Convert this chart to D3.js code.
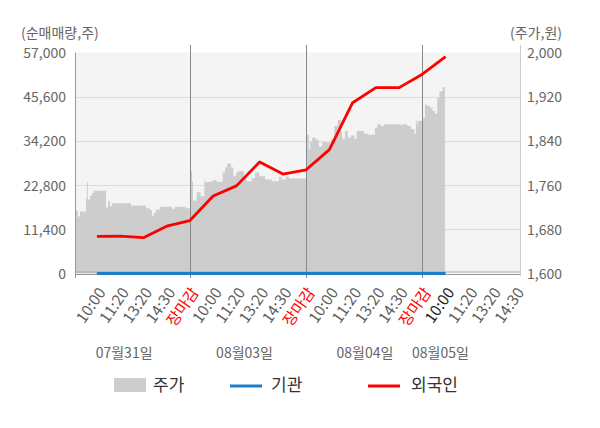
<!DOCTYPE html>
<html>
<head>
<meta charset="utf-8">
<script src="https://cdn.jsdelivr.net/npm/d3@7"></script>
<style>
  body { margin: 0; background: #fff; }
  svg { display: block; font-family: "Noto Sans CJK KR", "Noto Sans", sans-serif; }
</style>
</head>
<body>
<svg id="chart"></svg>
<script>
const WIDTH = 600;
const HEIGHT = 428;

// x axis slots: 4 trading days, 5 slots per day (last day still open)
const timeLabels = [
  "10:00", "11:20", "13:20", "14:30", "장마감",
  "10:00", "11:20", "13:20", "14:30", "장마감",
  "10:00", "11:20", "13:20", "14:30", "장마감",
  "10:00", "11:20", "13:20", "14:30"
];
const dayLabels = ["07월31일", "08월03일", "08월04일", "08월05일"];
const closeSlots = [4, 9, 14];
const currentSlot = 15;

const volTicks = [0, 11400, 22800, 34200, 45600, 57000];
const priceTicks = [1600, 1680, 1760, 1840, 1920, 2000];

// net buying per slot (shares)
const foreignNet = [9600, 9650, 9250, 12200, 13650, 20000, 22600, 28750, 25650,
  26750, 31950, 44050, 47950, 47950, 51400, 55950];
const instNet = [0, 0, 0, 0, 0, 0, 0, 0, 0, 0, 0, 0, 0, 0, 0, 0];

// intraday price, [slot position, price] (step after)
const price = [
  [-0.90, 1714], [-0.82, 1703], [-0.73, 1712], [-0.47, 1736], [-0.43, 1765],
  [-0.39, 1734], [-0.30, 1741], [-0.20, 1746], [-0.13, 1750], [0.39, 1720],
  [0.48, 1731], [0.56, 1722], [0.65, 1727], [1.47, 1721], [1.51, 1723],
  [2.11, 1718], [2.28, 1715], [2.37, 1705], [2.45, 1710], [2.54, 1716],
  [2.71, 1721], [3.23, 1717], [3.36, 1721], [3.83, 1718],
  [4.03, 1785], [4.09, 1767], [4.13, 1732], [4.29, 1747], [4.46, 1740],
  [4.62, 1770], [4.65, 1765], [4.75, 1766], [4.98, 1769], [5.15, 1766],
  [5.41, 1783], [5.51, 1792], [5.61, 1799], [5.77, 1792], [5.87, 1776],
  [5.98, 1783], [6.06, 1785], [6.33, 1776], [6.44, 1767], [6.66, 1773],
  [6.80, 1783], [6.98, 1776], [7.23, 1770], [7.52, 1767], [7.83, 1775],
  [7.95, 1770], [8.12, 1775], [8.26, 1772],
  [9.02, 1851], [9.12, 1825], [9.17, 1838], [9.26, 1846], [9.41, 1842],
  [9.55, 1830], [9.69, 1838], [9.84, 1837], [10.07, 1843], [10.21, 1867],
  [10.36, 1878], [10.50, 1855], [10.55, 1844], [10.67, 1858], [10.79, 1846],
  [10.93, 1850], [11.07, 1844], [11.17, 1858], [11.49, 1853], [11.67, 1851],
  [11.96, 1864], [12.06, 1870], [12.21, 1867], [12.35, 1870], [13.07, 1869],
  [13.15, 1870], [13.35, 1867], [13.51, 1861], [13.65, 1853], [13.72, 1876],
  [13.77, 1870], [13.81, 1877], [13.87, 1876],
  [14.04, 1882], [14.11, 1906], [14.21, 1903], [14.33, 1900], [14.44, 1894],
  [14.54, 1889], [14.64, 1918], [14.73, 1930], [14.87, 1937], [14.97, 1937]
];
// where the date captions sit, in slot units
const dayLabelPos = [1.17, 6.35, 11.53, 14.78];

const plotLeft = 76, plotRight = 520, plotTop = 52.5, plotBottom = 273.5;

const svg = d3.select("#chart").attr("width", WIDTH).attr("height", HEIGHT);

const x = d3.scaleLinear().domain([-0.9, 18.2]).range([plotLeft, plotRight]);
const yVol = d3.scaleLinear().domain([0, 57000]).range([plotBottom, plotTop]);
const yPrice = d3.scaleLinear().domain([1600, 2000]).range([plotBottom, plotTop]);

// plot background
svg.append("rect")
  .attr("x", plotLeft).attr("y", plotTop)
  .attr("width", plotRight - plotLeft).attr("height", plotBottom - plotTop)
  .attr("fill", "#f4f4f4");

// grid
svg.append("g")
  .selectAll("line")
  .data(volTicks.slice(1, -1))
  .enter()
  .append("line")
  .attr("x1", plotLeft).attr("x2", plotRight)
  .attr("y1", d => Math.round(yVol(d)) + 0.5)
  .attr("y2", d => Math.round(yVol(d)) + 0.5)
  .attr("stroke", "#dcdcdc")
  .attr("stroke-width", 1);

// price area
const area = d3.area()
  .curve(d3.curveStepAfter)
  .x(d => x(d[0]))
  .y0(plotBottom)
  .y1(d => yPrice(d[1]));
svg.append("path")
  .datum(price)
  .attr("d", area)
  .attr("fill", "#cdcdcd");

// baseline
svg.append("line")
  .attr("x1", plotLeft).attr("x2", plotRight)
  .attr("y1", plotBottom - 1.5).attr("y2", plotBottom - 1.5)
  .attr("stroke", "#aaa").attr("stroke-width", 1);
svg.append("line")
  .attr("x1", plotLeft).attr("x2", plotRight)
  .attr("y1", plotBottom + 1).attr("y2", plotBottom + 1)
  .attr("stroke", "#999").attr("stroke-width", 1);

// day separators
svg.append("g")
  .selectAll("line")
  .data(closeSlots)
  .enter()
  .append("line")
  .attr("x1", d => Math.round(x(d)) + 0.5)
  .attr("x2", d => Math.round(x(d)) + 0.5)
  .attr("y1", 45).attr("y2", 278)
  .attr("stroke", "#888").attr("stroke-width", 1);

// axis frame lines
svg.append("line")
  .attr("x1", plotLeft - 0.5).attr("x2", plotLeft - 0.5)
  .attr("y1", plotTop).attr("y2", 278)
  .attr("stroke", "#999");
svg.append("line")
  .attr("x1", plotRight + 0.5).attr("x2", plotRight + 0.5)
  .attr("y1", 45).attr("y2", 276)
  .attr("stroke", "#ccc");

// net buying lines
const netLine = d3.line()
  .x((d, i) => x(i))
  .y(d => yVol(d));
svg.append("path")
  .datum(instNet)
  .attr("d", netLine)
  .attr("fill", "none")
  .attr("stroke", "#1a7fc8")
  .attr("stroke-width", 3);
svg.append("path")
  .datum(foreignNet)
  .attr("d", netLine)
  .attr("fill", "none")
  .attr("stroke", "#ff0000")
  .attr("stroke-width", 2.8)
  .attr("stroke-linejoin", "round");

// left axis
const leftAxis = svg.append("g")
  .attr("transform", `translate(${plotLeft - 10},0)`)
  .call(d3.axisLeft(yVol).tickValues(volTicks).tickSize(0).tickFormat(d3.format(",")));
leftAxis.select(".domain").remove();
leftAxis.selectAll("text")
  .attr("x", 0)
  .attr("dy", "0.35em")
  .attr("fill", "#666")
  .style("font-size", "14px")
  .style("font-family", "'Noto Sans CJK KR', 'Noto Sans', sans-serif");

// right axis
const rightAxis = svg.append("g")
  .attr("transform", `translate(${plotRight + 7},0)`)
  .call(d3.axisRight(yPrice).tickValues(priceTicks).tickSize(0).tickFormat(d3.format(",")));
rightAxis.select(".domain").remove();
rightAxis.selectAll("text")
  .attr("x", 0)
  .attr("dy", "0.35em")
  .attr("fill", "#666")
  .style("font-size", "14px")
  .style("font-family", "'Noto Sans CJK KR', 'Noto Sans', sans-serif");

// axis titles
svg.append("text")
  .attr("x", 21).attr("y", 38)
  .attr("fill", "#666").style("font-size", "14px")
  .text("(순매매량,주)");
svg.append("text")
  .attr("x", 562).attr("y", 38)
  .attr("text-anchor", "end")
  .attr("fill", "#666").style("font-size", "14px")
  .text("(주가,원)");

// time labels
const bottomAxis = svg.append("g")
  .attr("transform", `translate(0,${plotBottom})`)
  .call(d3.axisBottom(x).tickValues(d3.range(timeLabels.length)).tickSize(0)
    .tickFormat(i => timeLabels[i]));
bottomAxis.select(".domain").remove();
bottomAxis.selectAll(".tick text")
  .attr("x", 0).attr("y", 0)
  .attr("dy", 0)
  .attr("text-anchor", "end")
  .attr("transform", "translate(9,19) rotate(-55)")
  .attr("fill", (d, i) => timeLabels[i] === "장마감" ? "#ff0000" : (i === currentSlot ? "#222" : "#5f5f5f"))
  .style("font-size", "15.5px")
  .style("font-family", "'Noto Sans CJK KR', 'Noto Sans', sans-serif");

// date captions
svg.append("g")
  .selectAll("text")
  .data(dayLabels)
  .enter()
  .append("text")
  .attr("x", (d, i) => x(dayLabelPos[i]))
  .attr("y", 358)
  .attr("text-anchor", "middle")
  .attr("fill", "#666")
  .style("font-size", "14px")
  .text(d => d);

// legend
const legend = svg.append("g").style("font-size", "17px");
legend.append("rect")
  .attr("x", 114).attr("y", 378).attr("width", 32).attr("height", 14)
  .attr("fill", "#cdcdcd");
legend.append("text").attr("x", 153).attr("y", 391).attr("fill", "#333").text("주가");
legend.append("line")
  .attr("x1", 230).attr("x2", 262).attr("y1", 386).attr("y2", 386)
  .attr("stroke", "#1a7fc8").attr("stroke-width", 3);
legend.append("text").attr("x", 271).attr("y", 391).attr("fill", "#333").text("기관");
legend.append("line")
  .attr("x1", 368).attr("x2", 400).attr("y1", 386).attr("y2", 386)
  .attr("stroke", "#ff0000").attr("stroke-width", 3);
legend.append("text").attr("x", 411).attr("y", 391).attr("fill", "#333").text("외국인");
</script>
</body>
</html>
